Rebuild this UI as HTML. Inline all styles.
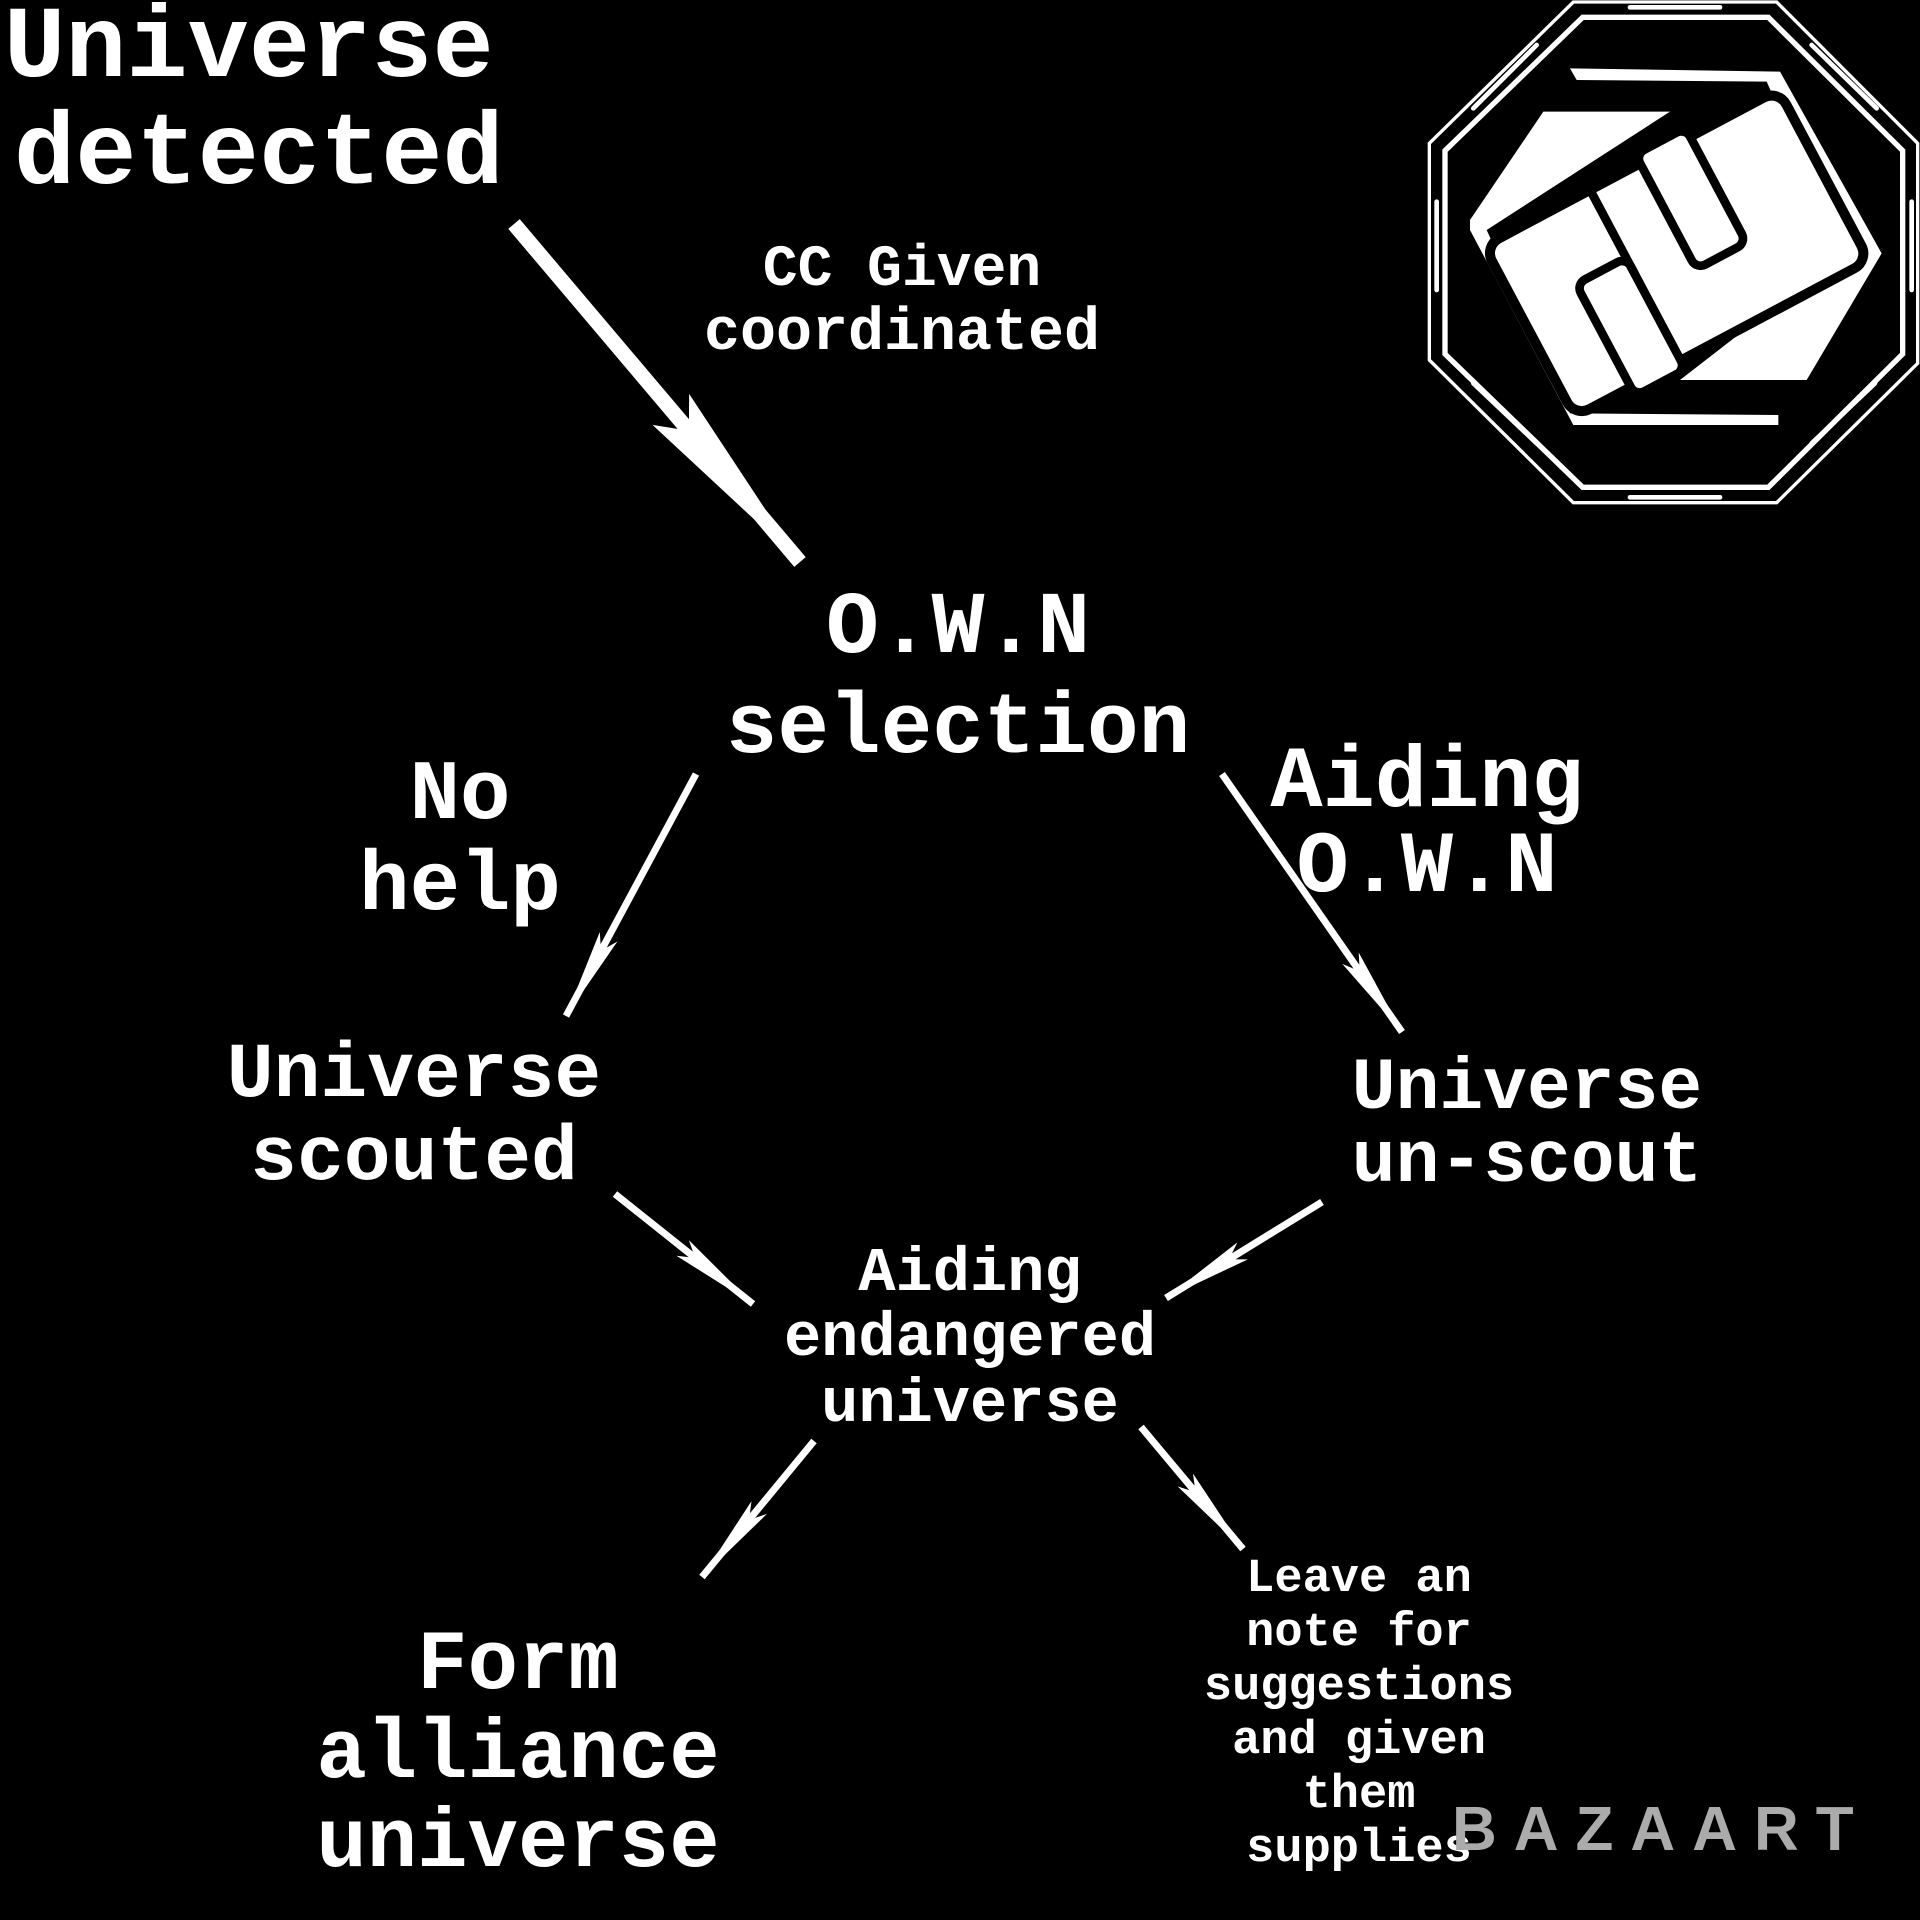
<!DOCTYPE html>
<html><head><meta charset="utf-8"><style>
html,body{margin:0;padding:0;background:#000;}
svg{display:block;}
text{font-family:"Liberation Mono",monospace;font-weight:bold;fill:#fff;}
</style></head><body>
<svg width="1920" height="1920" viewBox="0 0 1920 1920" xmlns="http://www.w3.org/2000/svg">
<defs>
<marker id="h" markerUnits="userSpaceOnUse" markerWidth="120" markerHeight="40" refX="0" refY="0" viewBox="-110 -20 120 40" orient="auto">
<path d="M0,0 L-90,-10 L-74,0 L-90,10 Z" fill="#fff"/>
</marker>
<marker id="H" markerUnits="userSpaceOnUse" markerWidth="240" markerHeight="60" refX="0" refY="0" viewBox="-230 -30 240 60" orient="auto">
<path d="M0,0 L-200,-24 L-172,0 L-200,24 Z" fill="#fff"/>
</marker>
</defs>
<rect width="1920" height="1920" fill="#000"/>

<!-- arrows -->
<line x1="514" y1="224" x2="800" y2="562" stroke="#fff" stroke-width="15" marker-end="url(#H)"/>
<g stroke="#fff" stroke-width="7" marker-end="url(#h)">
<line x1="696" y1="774" x2="566" y2="1016"/>
<line x1="1222" y1="774" x2="1402" y2="1032"/>
<line x1="615" y1="1194" x2="753" y2="1304"/>
<line x1="1322" y1="1202" x2="1166" y2="1298"/>
<line x1="814" y1="1441" x2="702" y2="1577"/>
<line x1="1141" y1="1427" x2="1243" y2="1549"/>
</g>

<!-- logo -->
<g transform="translate(1400,0) scale(0.33333)" fill="none" stroke="#fff">
<polygon points="520,6 1130,6 1553,430 1553,1090 1130,1508 520,1508 88,1080 88,430" stroke-width="10"/>
<polygon points="548,52 1105,52 1508,452 1508,1062 1105,1462 548,1462 135,1062 135,452" stroke-width="16"/>
<g stroke-width="14" stroke-linecap="round">
<line x1="690" y1="22" x2="960" y2="22"/><line x1="690" y1="1492" x2="960" y2="1492"/>
<line x1="110" y1="605" x2="110" y2="870"/><line x1="1535" y1="605" x2="1535" y2="870"/>
<line x1="220" y1="325" x2="410" y2="135"/><line x1="1235" y1="135" x2="1430" y2="325"/>
<line x1="220" y1="1150" x2="410" y2="1330"/><line x1="1235" y1="1330" x2="1425" y2="1150"/>
</g>
<polygon points="510,205 1140,215 1445,760 1220,1140 840,1140 1330,760 1100,245 530,240" fill="#fff" stroke="none"/>
<polygon points="430,335 810,335 260,690 510,1240 1135,1245 1135,1275 520,1275 210,690 210,660" fill="#fff" stroke="none"/>
<g transform="rotate(-28 830 760)">
<rect x="330" y="470" width="1000" height="580" rx="50" fill="#fff" stroke="#000" stroke-width="30"/>
<rect x="520" y="700" width="170" height="380" rx="30" fill="#fff" stroke="#000" stroke-width="26"/>
<rect x="860" y="440" width="170" height="390" rx="30" fill="#fff" stroke="#000" stroke-width="26"/>
<line x1="690" y1="480" x2="690" y2="760" stroke="#000" stroke-width="26"/>
</g>
</g>

<!-- labels -->
<g text-anchor="start" font-size="102">
<text x="4" y="76">Universe</text>
<text x="14" y="183">detected</text>
</g>
<g text-anchor="middle">
<text x="902" y="285" font-size="58">CC Given</text>
<text x="902" y="349" font-size="60">coordinated</text>
<text x="958" y="652" font-size="88">O.W.N</text>
<text x="958" y="752" font-size="86">selection</text>
<text x="460" y="818" font-size="84">No</text>
<text x="460" y="909" font-size="84">help</text>
<text x="1427" y="806" font-size="87">Aiding</text>
<text x="1427" y="891" font-size="87">O.W.N</text>
<text x="414" y="1096" font-size="78">Universe</text>
<text x="414" y="1179" font-size="78">scouted</text>
<text x="1527" y="1108" font-size="73">Universe</text>
<text x="1527" y="1181" font-size="73">un-scout</text>
<text x="970" y="1290" font-size="62">Aiding</text>
<text x="970" y="1355" font-size="62">endangered</text>
<text x="970" y="1421" font-size="62">universe</text>
<text x="518" y="1688" font-size="84">Form</text>
<text x="518" y="1777" font-size="84">alliance</text>
<text x="518" y="1866" font-size="84">universe</text>
<g font-size="47">
<text x="1359" y="1591">Leave an</text>
<text x="1359" y="1645">note for</text>
<text x="1359" y="1699">suggestions</text>
<text x="1359" y="1753">and given</text>
<text x="1359" y="1807">them</text>
<text x="1359" y="1861">supplies</text>
</g>
</g>
<text x="1452" y="1850" style="fill:#ababab;font-family:'Liberation Sans',sans-serif;font-weight:bold;font-size:62px;letter-spacing:17px">BAZAART</text>
</svg>
</body></html>
